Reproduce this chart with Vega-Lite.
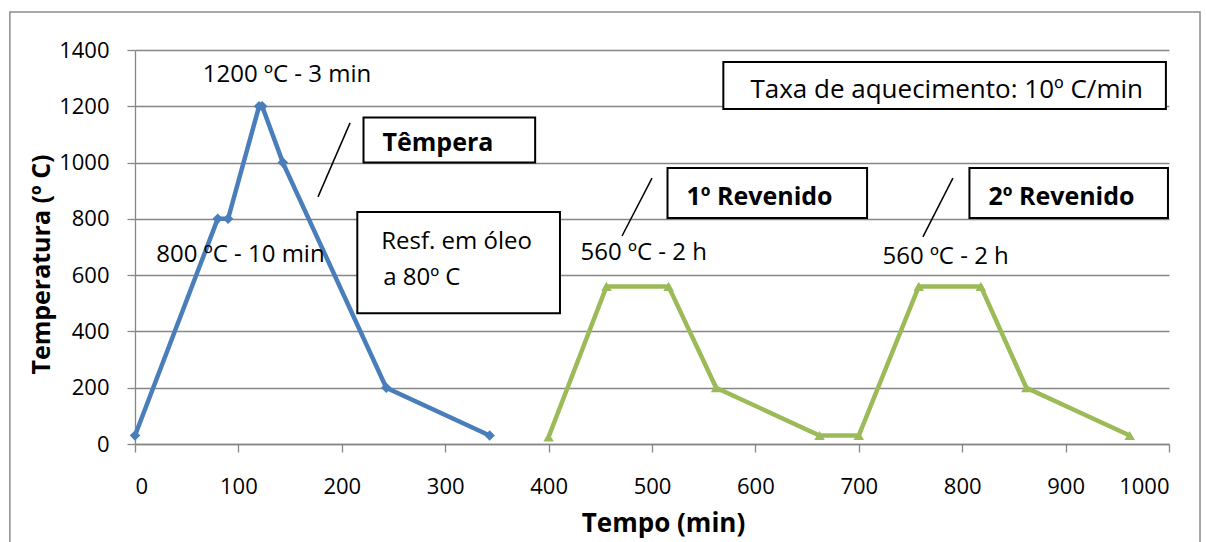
{
  "$schema": "https://vega.github.io/schema/vega-lite/v6.json",
  "autosize": "none",
  "width": 1034,
  "height": 394,
  "padding": {"left": 135, "top": 50, "right": 37, "bottom": 98},
  "background": "white",
  "config": {
    "view": {"stroke": null},
    "font": "Open Sans",
    "axis": {
      "labelFont": "Open Sans",
      "labelFontSize": 22,
      "labelColor": "#000000",
      "titleFont": "Open Sans",
      "titleFontWeight": "bold",
      "titleColor": "#000000",
      "domainColor": "#868686",
      "gridColor": "#868686",
      "tickColor": "#868686",
      "gridWidth": 1.3,
      "domainWidth": 1.3,
      "tickWidth": 1.3,
      "tickSize": 8,
      "format": "d"
    }
  },
  "datasets": {
    "series": [
      {"t": 0, "temp": 30, "serie": "Têmpera"},
      {"t": 80, "temp": 800, "serie": "Têmpera"},
      {"t": 90, "temp": 800, "serie": "Têmpera"},
      {"t": 120, "temp": 1200, "serie": "Têmpera"},
      {"t": 123, "temp": 1200, "serie": "Têmpera"},
      {"t": 143, "temp": 1000, "serie": "Têmpera"},
      {"t": 243, "temp": 200, "serie": "Têmpera"},
      {"t": 343, "temp": 30, "serie": "Têmpera"},
      {"t": 400, "temp": 25, "serie": "Revenido"},
      {"t": 456, "temp": 560, "serie": "Revenido"},
      {"t": 516, "temp": 560, "serie": "Revenido"},
      {"t": 562, "temp": 200, "serie": "Revenido"},
      {"t": 662, "temp": 30, "serie": "Revenido"},
      {"t": 700, "temp": 30, "serie": "Revenido"},
      {"t": 758, "temp": 560, "serie": "Revenido"},
      {"t": 818, "temp": 560, "serie": "Revenido"},
      {"t": 862, "temp": 200, "serie": "Revenido"},
      {"t": 962, "temp": 30, "serie": "Revenido"}
    ],
    "frame": [
      {"x1": -121, "x2": 1030, "y1": -400, "y2": 1535}
    ],
    "boxes": [
      {"x1": 221, "x2": 387, "y1": 1000, "y2": 1160},
      {"x1": 215, "x2": 411, "y1": 465, "y2": 824},
      {"x1": 515, "x2": 708, "y1": 803, "y2": 981},
      {"x1": 807, "x2": 999, "y1": 803, "y2": 981},
      {"x1": 569, "x2": 997, "y1": 1190, "y2": 1357}
    ],
    "leaders": [
      {"x1": 208, "y1": 1141, "x2": 177, "y2": 878},
      {"x1": 500, "y1": 945, "x2": 471, "y2": 739},
      {"x1": 791, "y1": 945, "x2": 762, "y2": 736}
    ],
    "labels": [
      {"x": 147, "y": 1311, "text": "1200 ºC - 3 min", "kind": "note", "anchor": "center"},
      {"x": 102, "y": 672, "text": "800 ºC  - 10 min", "kind": "note", "anchor": "center"},
      {"x": 311, "y": 718, "text": "Resf. em óleo", "kind": "note", "anchor": "center"},
      {"x": 240, "y": 590, "text": "a 80º C", "kind": "note", "anchor": "left"},
      {"x": 492, "y": 679, "text": "560 ºC  - 2 h", "kind": "note", "anchor": "center"},
      {"x": 784, "y": 665, "text": "560 ºC  - 2 h", "kind": "note", "anchor": "center"},
      {"x": 785, "y": 1258, "text": "Taxa de aquecimento: 10º C/min", "kind": "big", "anchor": "center"},
      {"x": 293, "y": 1070, "text": "Têmpera", "kind": "head", "anchor": "center"},
      {"x": 604, "y": 878, "text": "1º Revenido", "kind": "head", "anchor": "center"},
      {"x": 896, "y": 878, "text": "2º Revenido", "kind": "head", "anchor": "center"}
    ]
  },
  "layer": [
    {
      "data": {"name": "frame"},
      "mark": {"type": "rect", "fill": null, "stroke": "#8c8c8c", "strokeWidth": 1.5},
      "encoding": {
        "x": {"field": "x1", "type": "quantitative"},
        "x2": {"field": "x2"},
        "y": {"field": "y1", "type": "quantitative"},
        "y2": {"field": "y2"}
      }
    },
    {
      "data": {"name": "series"},
      "mark": {"type": "line", "strokeWidth": 4.5},
      "encoding": {
        "x": {"field": "t", "type": "quantitative", "scale": {"domain": [0, 1000], "nice": false},
              "axis": {"title": "Tempo (min)", "titleFontSize": 26, "titleX": 528, "values": [0,100,200,300,400,500,600,700,800,900,1000], "grid": false, "labelPadding": 24, "titlePadding": 13}},
        "y": {"field": "temp", "type": "quantitative", "scale": {"domain": [0, 1400], "nice": false},
              "axis": {"title": "Temperatura (º C)", "titleFontSize": 25, "titleY": 214, "values": [0,200,400,600,800,1000,1200,1400], "grid": true, "labelPadding": 18, "titlePadding": 4}},
        "color": {"field": "serie", "type": "nominal", "scale": {"domain": ["Têmpera", "Revenido"], "range": ["#4a7ebb", "#9bbb59"]}, "legend": null},
        "detail": {"field": "serie"}
      }
    },
    {
      "data": {"name": "series"},
      "mark": {"type": "point", "filled": true, "opacity": 1, "size": 110},
      "encoding": {
        "x": {"field": "t", "type": "quantitative"},
        "y": {"field": "temp", "type": "quantitative"},
        "color": {"field": "serie", "type": "nominal", "legend": null},
        "shape": {"field": "serie", "type": "nominal", "scale": {"domain": ["Têmpera", "Revenido"], "range": ["diamond", "triangle-up"]}, "legend": null}
      }
    },
    {
      "data": {"name": "boxes"},
      "mark": {"type": "rect", "fill": "white", "stroke": "black", "strokeWidth": 2},
      "encoding": {
        "x": {"field": "x1", "type": "quantitative"},
        "x2": {"field": "x2"},
        "y": {"field": "y1", "type": "quantitative"},
        "y2": {"field": "y2"}
      }
    },
    {
      "data": {"name": "leaders"},
      "mark": {"type": "rule", "color": "black", "strokeWidth": 1.5},
      "encoding": {
        "x": {"field": "x1", "type": "quantitative"},
        "x2": {"field": "x2"},
        "y": {"field": "y1", "type": "quantitative"},
        "y2": {"field": "y2"}
      }
    },
    {
      "data": {"name": "labels"},
      "transform": [{"filter": "datum.kind == 'note' && datum.anchor == 'center'"}],
      "mark": {"type": "text", "fontSize": 24, "font": "Open Sans", "color": "black", "align": "center", "baseline": "middle"},
      "encoding": {
        "x": {"field": "x", "type": "quantitative"},
        "y": {"field": "y", "type": "quantitative"},
        "text": {"field": "text"}
      }
    },
    {
      "data": {"name": "labels"},
      "transform": [{"filter": "datum.kind == 'note' && datum.anchor == 'left'"}],
      "mark": {"type": "text", "fontSize": 24, "font": "Open Sans", "color": "black", "align": "left", "baseline": "middle"},
      "encoding": {
        "x": {"field": "x", "type": "quantitative"},
        "y": {"field": "y", "type": "quantitative"},
        "text": {"field": "text"}
      }
    },
    {
      "data": {"name": "labels"},
      "transform": [{"filter": "datum.kind == 'big'"}],
      "mark": {"type": "text", "fontSize": 26, "font": "Open Sans", "color": "black", "align": "center", "baseline": "middle"},
      "encoding": {
        "x": {"field": "x", "type": "quantitative"},
        "y": {"field": "y", "type": "quantitative"},
        "text": {"field": "text"}
      }
    },
    {
      "data": {"name": "labels"},
      "transform": [{"filter": "datum.kind == 'head'"}],
      "mark": {"type": "text", "fontSize": 25, "font": "Open Sans", "fontWeight": "bold", "color": "black", "align": "center", "baseline": "middle"},
      "encoding": {
        "x": {"field": "x", "type": "quantitative"},
        "y": {"field": "y", "type": "quantitative"},
        "text": {"field": "text"}
      }
    }
  ]
}
